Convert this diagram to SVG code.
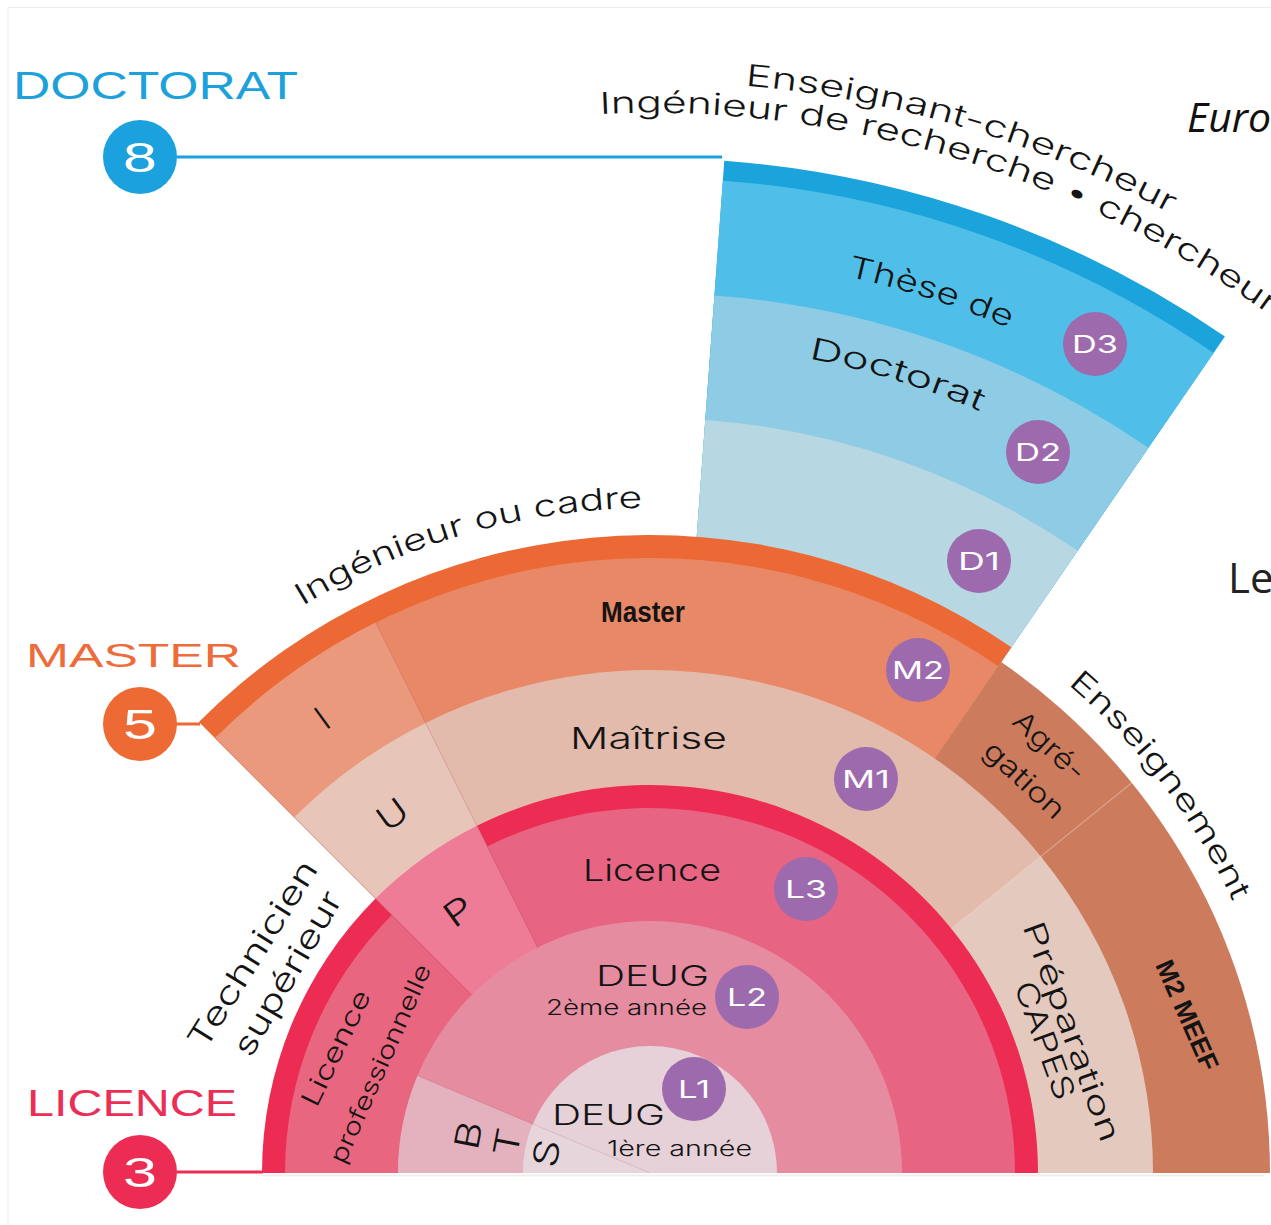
<svg xmlns="http://www.w3.org/2000/svg" width="1271" height="1225" viewBox="0 0 1271 1225">
<style>
  text{font-family:"Liberation Sans",Arial,sans-serif;fill:#141414}
  .t{font-family:Inter,"Liberation Sans",Arial,sans-serif;font-weight:300}
  .num{font-size:42px;fill:#fff;text-anchor:middle}
  .yr{font-family:Inter,"Liberation Sans",Arial,sans-serif;font-size:24px;fill:#fff;text-anchor:middle}
  .arc{font-size:30px}
  .lab{font-size:30px}
  .c{text-anchor:middle;dominant-baseline:central;font-size:34px}
  .sep{fill:none;stroke:#8a2c3c;stroke-opacity:0.13;stroke-width:1.2}
  .badge{fill:#9d6aae}
</style>
<defs>
  <path id="pEns" d="M745.0,85.5 A1090,1090 0 0 1 1275.2,278.4"/>
  <path id="pIng" d="M600,114 A1050,1050 0 0 1 1392.5,420.5"/>
  <path id="pCad" d="M302.5,606.0 A665,665 0 0 1 673.2,508.4"/>
  <path id="pEnsg" d="M1067.6,684.1 A643,643 0 0 1 1254.2,953.1"/>
  <path id="pThe" d="M847.1,276.4 A918,918 0 0 1 1109,378"/>
  <path id="pDoc" d="M808.4,358.3 A830,830 0 0 1 1065,454.2"/>
</defs>
<rect width="1271" height="1225" fill="#fff"/>
<path d="M8,1225 V7.5 H1271" fill="none" stroke="#f1ebe9" stroke-width="1"/>

<g id="doctorat-fan">
  <path d="M650,1173 L724.3,160.7 A1015,1015 0 0 1 1224.9,336.5 Z" fill="#1ba3db"/>
  <path d="M650,1173 L722.9,180.7 A995,995 0 0 1 1213.6,353.0 Z" fill="#4fbfe9"/>
  <path d="M650,1173 L714.5,295.4 A880,880 0 0 1 1148.4,447.8 Z" fill="#8ecbe4"/>
  <path d="M650,1173 L705.3,420.0 A755,755 0 0 1 1077.6,550.8 Z" fill="#b7d7e2"/>
</g>
<g id="master-band">
  <path d="M650,1173 L198.9,721.9 A638,638 0 0 1 1011.4,647.2 Z" fill="#ec6935"/>
  <path d="M650,1173 L215.1,738.1 A615,615 0 0 1 998.3,666.2 Z" fill="#e88866"/>
</g>
<g id="iup-I"><path d="M650,1173 L215.1,738.1 A615,615 0 0 1 375.6,622.6 Z" fill="#ea997d"/></g>
<g id="enseignement"><path d="M650,1173 L1001.2,662.1 A620,620 0 0 1 1270,1173 Z" fill="#cd7b5d"/></g>
<g id="maitrise"><path d="M650,1173 L425.6,722.9 A503,503 0 0 1 1040.9,856.5 Z" fill="#e2bbad"/></g>
<g id="iup-U"><path d="M650,1173 L294.3,817.3 A503,503 0 0 1 425.6,722.9 Z" fill="#e7c5b9"/></g>
<g id="capes"><path d="M650,1173 L1040.9,856.5 A503,503 0 0 1 1153,1173 Z" fill="#e4c9bf"/></g>
<g id="licence-band">
  <path d="M650,1173 L262,1173 A388,388 0 0 1 375.6,898.6 Z" fill="#ec2c52"/>
  <path d="M650,1173 L476.9,825.8 A388,388 0 0 1 1038,1173 Z" fill="#ec2c52"/>
</g>
<g id="iup-P"><path d="M650,1173 L375.6,898.6 A388,388 0 0 1 476.9,825.8 Z" fill="#ee7c96"/></g>
<g id="licence"><path d="M650,1173 L487.1,846.4 A365,365 0 0 1 1015,1173 Z" fill="#e76482"/></g>
<g id="licence-pro"><path d="M650,1173 L285,1173 A365,365 0 0 1 391.9,914.9 Z" fill="#e8667f"/></g>
<g id="deug2"><path d="M398,1173 A252,252 0 0 1 902,1173 Z" fill="#e68ca1"/></g>
<g id="bts"><path d="M650,1173 L398,1173 A252,252 0 0 1 417.5,1075.8 Z" fill="#e4b1bf"/></g>
<g id="deug1">
  <path d="M523,1173 A127,127 0 0 1 777,1173 Z" fill="#e7d1d9"/>
  <path d="M650,1173 L523,1173 A127,127 0 0 1 532.8,1124.0 Z" fill="#e6d6dc"/>
</g>

<g id="connectors">
  <line x1="177" y1="157" x2="722" y2="157" stroke="#1ba1de" stroke-width="3"/>
  <line x1="176" y1="724" x2="200" y2="724" stroke="#ec6935" stroke-width="3"/>
  <line x1="177" y1="1172" x2="263" y2="1172" stroke="#ec2c52" stroke-width="3"/>
  <line class="sep" x1="537.6" y1="947.5" x2="375.6" y2="622.6"/>
  <line class="sep" x1="471.8" y1="994.8" x2="215.1" y2="738.1"/>
  <line class="sep" x1="650" y1="1173" x2="417.5" y2="1075.8"/>
  <line x1="951.5" y1="928.8" x2="1131.8" y2="782.8" stroke="#fff" stroke-opacity="0.3" stroke-width="1.2"/>
  <line x1="262" y1="1175.5" x2="1264" y2="1175.5" stroke="#eeeeee" stroke-width="2"/>
</g>

<g id="level-doctorat">
  <text x="13" y="99" style="fill:#1da1db" font-size="38" textLength="285" lengthAdjust="spacingAndGlyphs">DOCTORAT</text>
  <circle cx="140" cy="157" r="37" fill="#1ba1de"/>
  <text class="num" x="140" y="172" textLength="34" lengthAdjust="spacingAndGlyphs">8</text>
</g>
<g id="level-master">
  <text x="26" y="667" style="fill:#ee6b3a" font-size="34" textLength="215" lengthAdjust="spacingAndGlyphs">MASTER</text>
  <circle cx="140" cy="724" r="37" fill="#ee6a35"/>
  <text class="num" x="140" y="739" textLength="34" lengthAdjust="spacingAndGlyphs">5</text>
</g>
<g id="level-licence">
  <text x="27" y="1116" style="fill:#ec2e55" font-size="36" textLength="210" lengthAdjust="spacingAndGlyphs">LICENCE</text>
  <circle cx="140" cy="1172" r="37" fill="#ec2c52"/>
  <text class="num" x="140" y="1187" textLength="34" lengthAdjust="spacingAndGlyphs">3</text>
</g>

<g id="outcome-labels">
  <text class="t arc"><textPath href="#pEns" textLength="447" lengthAdjust="spacingAndGlyphs">Enseignant-chercheur</textPath></text>
  <text class="t arc"><textPath href="#pIng" textLength="712" lengthAdjust="spacingAndGlyphs">Ingénieur de recherche • chercheur</textPath></text>
  <text class="t arc"><textPath href="#pCad" textLength="358" lengthAdjust="spacingAndGlyphs">Ingénieur ou cadre</textPath></text>
  <text class="t arc"><textPath href="#pEnsg" textLength="275" lengthAdjust="spacingAndGlyphs">Enseignement</textPath></text>
  <text class="t" font-size="32" transform="translate(262,960) rotate(-58)" text-anchor="middle" textLength="215" lengthAdjust="spacingAndGlyphs">Technicien</text>
  <text class="t" font-size="32" transform="translate(297,979) rotate(-60)" text-anchor="middle" textLength="185" lengthAdjust="spacingAndGlyphs">supérieur</text>
</g>

<g id="section-labels">
  <text class="t arc"><textPath href="#pThe" textLength="170" lengthAdjust="spacingAndGlyphs">Thèse de</textPath></text>
  <text class="t arc"><textPath href="#pDoc" textLength="180" lengthAdjust="spacingAndGlyphs">Doctorat</textPath></text>
  <text x="601" y="622" font-size="29" font-weight="bold" textLength="84" lengthAdjust="spacingAndGlyphs">Master</text>
  <text class="t lab" x="570" y="749" textLength="157" lengthAdjust="spacingAndGlyphs">Maîtrise</text>
  <text class="t lab" x="583" y="881" textLength="138" lengthAdjust="spacingAndGlyphs">Licence</text>
  <text class="t" x="596" y="986" font-size="29" textLength="113" lengthAdjust="spacingAndGlyphs">DEUG</text>
  <text class="t" x="546" y="1015" font-size="21" textLength="161" lengthAdjust="spacingAndGlyphs">2ème année</text>
  <text class="t" x="552" y="1125" font-size="29" textLength="113" lengthAdjust="spacingAndGlyphs">DEUG</text>
  <text class="t" x="607" y="1156" font-size="21" textLength="145" lengthAdjust="spacingAndGlyphs">1ère année</text>
  <text class="t" font-size="26" transform="translate(344,1052) rotate(-64)" text-anchor="middle" textLength="126" lengthAdjust="spacingAndGlyphs">Licence</text>
  <text class="t" font-size="24" transform="translate(388,1067) rotate(-66)" text-anchor="middle" textLength="215" lengthAdjust="spacingAndGlyphs">professionnelle</text>
  <text class="t" font-size="30" transform="translate(1062,1035) rotate(70)" text-anchor="middle" textLength="232" lengthAdjust="spacingAndGlyphs">Préparation</text>
  <text class="t" font-size="30" transform="translate(1035,1044) rotate(70)" text-anchor="middle" textLength="124" lengthAdjust="spacingAndGlyphs">CAPES</text>
  <text font-size="26" font-weight="bold" transform="translate(1179,1019) rotate(66)" text-anchor="middle" textLength="118" lengthAdjust="spacingAndGlyphs">M2 MEEF</text>
  <text class="t" font-size="28" transform="translate(1043,753) rotate(43)" text-anchor="middle" textLength="88" lengthAdjust="spacingAndGlyphs">Agré-</text>
  <text class="t" font-size="28" transform="translate(1018,787) rotate(43)" text-anchor="middle" textLength="100" lengthAdjust="spacingAndGlyphs">gation</text>
  <text class="t c" transform="translate(322,718) rotate(-36)">I</text>
  <text class="t c" transform="translate(392,814) rotate(-36)" textLength="30" lengthAdjust="spacingAndGlyphs">U</text>
  <text class="t c" transform="translate(458,911) rotate(-36)" textLength="28" lengthAdjust="spacingAndGlyphs">P</text>
  <text class="t c" transform="translate(468,1135) rotate(-79)" textLength="28" lengthAdjust="spacingAndGlyphs">B</text>
  <text class="t c" transform="translate(507,1142) rotate(-79)" textLength="28" lengthAdjust="spacingAndGlyphs">T</text>
  <text class="t c" transform="translate(546,1153) rotate(-79)" textLength="28" lengthAdjust="spacingAndGlyphs">S</text>
</g>

<g id="year-badges">
  <g id="D3"><circle class="badge" cx="1095" cy="344" r="32"/><text class="yr" x="1095" y="352.5" textLength="46" lengthAdjust="spacingAndGlyphs">D3</text></g>
  <g id="D2"><circle class="badge" cx="1038" cy="452" r="32"/><text class="yr" x="1038" y="460.5" textLength="46" lengthAdjust="spacingAndGlyphs">D2</text></g>
  <g id="D1"><circle class="badge" cx="979" cy="561" r="32"/><text class="yr" x="979" y="569.5" textLength="42" lengthAdjust="spacingAndGlyphs">D1</text></g>
  <g id="M2"><circle class="badge" cx="918" cy="670" r="32"/><text class="yr" x="918" y="678.5" textLength="52" lengthAdjust="spacingAndGlyphs">M2</text></g>
  <g id="M1"><circle class="badge" cx="866" cy="779" r="32"/><text class="yr" x="866" y="787.5" textLength="48" lengthAdjust="spacingAndGlyphs">M1</text></g>
  <g id="L3"><circle class="badge" cx="806" cy="889" r="32"/><text class="yr" x="806" y="897.5" textLength="42" lengthAdjust="spacingAndGlyphs">L3</text></g>
  <g id="L2"><circle class="badge" cx="747" cy="997" r="32"/><text class="yr" x="747" y="1005.5" textLength="40" lengthAdjust="spacingAndGlyphs">L2</text></g>
  <g id="L1"><circle class="badge" cx="694" cy="1089" r="32"/><text class="yr" x="694" y="1097.5" textLength="32" lengthAdjust="spacingAndGlyphs">L1</text></g>
</g>

<g id="page-fragments">
  <text x="1187" y="132" style="font-family:'Open Sans','Noto Sans',sans-serif;font-style:italic;font-size:41px;fill:#111">Euro</text>
  <text x="1228" y="593" style="font-family:'Open Sans','Noto Sans',sans-serif;font-size:42px;fill:#222">Le</text>
</g>
</svg>
